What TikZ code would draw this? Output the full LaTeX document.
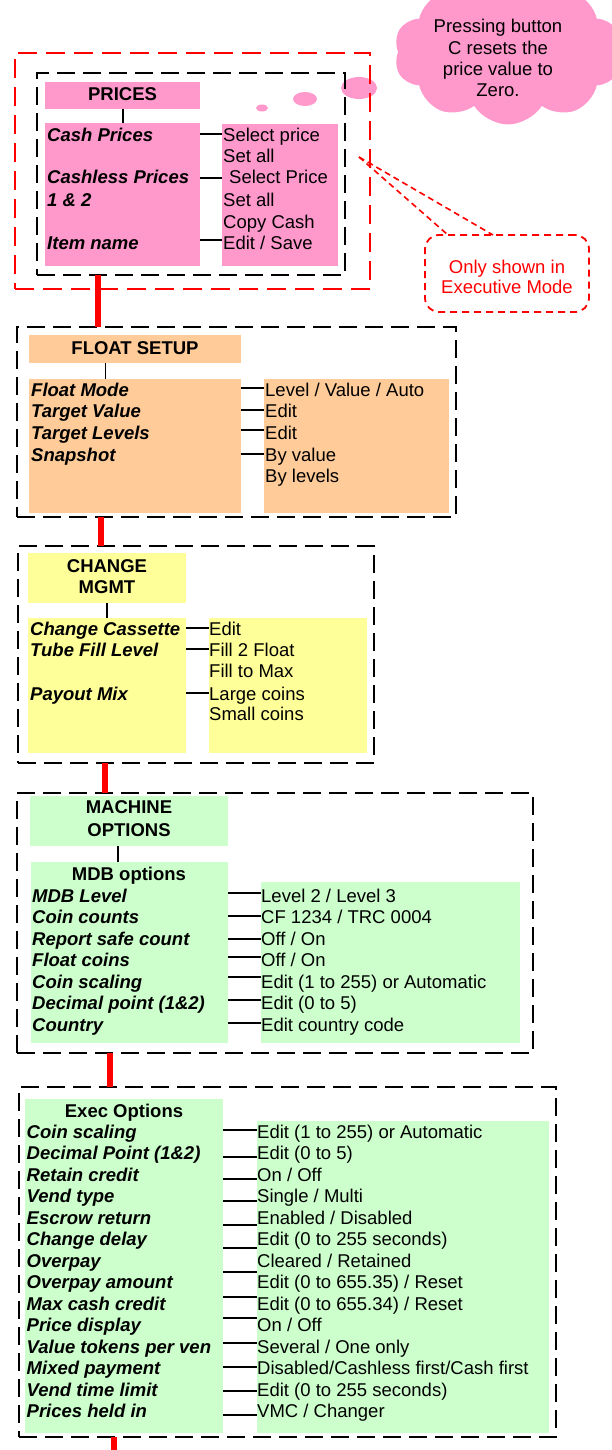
\documentclass[tikz,border=0pt]{standalone}
\usepackage{fontspec}
\setmainfont{Liberation Sans}
\usetikzlibrary{shapes.symbols,shapes.geometric,fit}
\definecolor{cpink}{HTML}{FF99CC}
\definecolor{cpeach}{HTML}{FFCC99}
\definecolor{cyel}{HTML}{FFFF99}
\definecolor{cgreen}{HTML}{CCFFCC}
\definecolor{cred}{HTML}{FF0000}
\tikzset{
  box/.style={inner sep=0pt, outer sep=0pt, draw=none},
  frame/.style={box, draw=black, line width=2.4pt, dash pattern=on 18pt off 8pt},
  redframe/.style={box, draw=cred, line width=2.4pt, dash pattern=on 19pt off 9pt},
  txt/.style={inner sep=0pt, anchor=base west, font=\fontsize{18.5}{21.5}\selectfont},
  itm/.style={inner sep=0pt, anchor=base west, font=\fontsize{18.5}{21.5}\selectfont\bfseries\itshape},
  hdr/.style={inner sep=0pt, anchor=base, font=\fontsize{18.5}{21.5}\selectfont\bfseries},
  ctr/.style={inner sep=0pt, anchor=base, font=\fontsize{18.5}{21.5}\selectfont},
  link/.style={draw=black, line width=1.6pt},
  redlink/.style={draw=cred, line width=6pt},
  notelink/.style={draw=cred, line width=1.6pt, dash pattern=on 6pt off 4pt}
}
\begin{document}
\begin{tikzpicture}[x=1pt,y=-1pt]
\useasboundingbox (0,0) rectangle (611,1450);

% ---------------- cloud note ----------------
\node[cloud, cloud puffs=10, cloud puff arc=115, aspect=1.55, fill=cpink, inner sep=0pt,
      minimum width=228pt, minimum height=145pt] (cloud) at (508,52) {};
\node[ellipse, fill=cpink, inner sep=0pt, minimum width=36pt, minimum height=22pt] (b1) at (359,88) {};
\node[ellipse, fill=cpink, inner sep=0pt, minimum width=24pt, minimum height=14pt] (b2) at (305,99) {};
\node[ellipse, fill=cpink, inner sep=0pt, minimum width=12pt, minimum height=7pt] (b3) at (262,108) {};
\node[ctr] (cl1) at (498,33) {Pressing button};
\node[ctr] (cl2) at (498,55) {C resets the};
\node[ctr] (cl3) at (498,76) {price value to};
\node[ctr] (cl4) at (498,97) {Zero.};

% ---------------- PRICES ----------------
\node[redframe, fit={(15,53) (370,289)}] (exframe) {};
\node[frame, fit={(37,73) (345,275)}] (pframe) {};
\node[box, fill=cpink, fit={(45,82) (200,109)}] (ph) {};
\node[box, fill=cpink, fit={(45,123) (200,266)}] (pl) {};
\node[box, fill=cpink, fit={(222,124) (338,266)}] (pr) {};
\node[hdr] (tprices) at (122.5,101) {PRICES};
\node[itm] (p1) at (47,142) {Cash Prices};
\node[itm] (p2) at (47,184) {Cashless Prices};
\node[itm] (p3) at (47,206) {1 \& 2};
\node[itm] (p4) at (47,249) {Item name};
\node[txt] (q1) at (223,142) {Select price};
\node[txt] (q2) at (223,163) {Set all};
\node[txt] (q3) at (229,184) {Select Price};
\node[txt] (q4) at (223,206) {Set all};
\node[txt] (q5) at (223,228) {Copy Cash};
\node[txt] (q6) at (223,249) {Edit / Save};
\coordinate (vp) at (123,0);
\draw[link] (ph.south -| vp) -- (pl.north -| vp);
\foreach \y [count=\i] in {134,178,240} {
  \coordinate (pa\i) at (0,\y);
  \draw[link] (pl.east |- pa\i) -- (pr.west |- pa\i);
}

% callout
\node[box, draw=cred, line width=1.8pt, dash pattern=on 7pt off 5pt, rounded corners=14pt,
      fit={(425,235) (589,312)}] (note) {};
\node[ctr, text=cred] (n1) at (507,273) {Only shown in};
\node[ctr, text=cred] (n2) at (507,293) {Executive Mode};
\coordinate (tip) at (359,157);
\coordinate (c1) at (448,235);
\coordinate (c2) at (493,235);
\draw[notelink] (tip) -- (c1);
\draw[notelink] (tip) -- (c2);

% ---------------- FLOAT SETUP ----------------
\node[frame, fit={(17,327) (456,517)}] (fframe) {};
\node[box, fill=cpeach, fit={(29,335) (241,363)}] (fh) {};
\node[box, fill=cpeach, fit={(29,379) (241,513)}] (fl) {};
\node[box, fill=cpeach, fit={(264,379) (449,513)}] (fr) {};
\node[hdr] (tfloat) at (135,354) {FLOAT SETUP};
\node[itm] (f1) at (31,396) {Float Mode};
\node[itm] (f2) at (31,417) {Target Value};
\node[itm] (f3) at (31,439) {Target Levels};
\node[itm] (f4) at (31,461) {Snapshot};
\node[txt] (g1) at (265,396) {Level / Value / Auto};
\node[txt] (g2) at (265,417) {Edit};
\node[txt] (g3) at (265,439) {Edit};
\node[txt] (g4) at (265,461) {By value};
\node[txt] (g5) at (265,482) {By levels};
\coordinate (vf) at (105.5,0);
\draw[link] (fh.south -| vf) -- (fl.north -| vf);
\foreach \y [count=\i] in {388,410,430,454} {
  \coordinate (fa\i) at (0,\y);
  \draw[link] (fl.east |- fa\i) -- (fr.west |- fa\i);
}

% ---------------- CHANGE MGMT ----------------
\node[frame, fit={(18,546) (374,763)}] (cframe) {};
\node[box, fill=cyel, fit={(28,553) (186,603)}] (ch) {};
\node[box, fill=cyel, fit={(28,618) (186,753)}] (cl) {};
\node[box, fill=cyel, fit={(209,618) (367,753)}] (cr) {};
\node[hdr] (tch1) at (107,572) {CHANGE};
\node[hdr] (tch2) at (107,593) {MGMT};
\node[itm] (h1) at (30,635) {Change Cassette};
\node[itm] (h2) at (30,656) {Tube Fill Level};
\node[itm] (h3) at (30,700) {Payout Mix};
\node[txt] (k1) at (209,635) {Edit};
\node[txt] (k2) at (209,656) {Fill 2 Float};
\node[txt] (k3) at (209,677) {Fill to Max};
\node[txt] (k4) at (209,700) {Large coins};
\node[txt] (k5) at (209,720) {Small coins};
\coordinate (vc) at (107,0);
\draw[link] (ch.south -| vc) -- (cl.north -| vc);
\foreach \y [count=\i] in {628,649,693} {
  \coordinate (ca\i) at (0,\y);
  \draw[link] (cl.east |- ca\i) -- (cr.west |- ca\i);
}

% ---------------- MACHINE OPTIONS ----------------
\node[frame, fit={(17,793) (533,1053)}] (mframe) {};
\node[box, fill=cgreen, fit={(30,796) (228,846)}] (mh) {};
\node[box, fill=cgreen, fit={(31,862) (228,1043)}] (ml) {};
\node[box, fill=cgreen, fit={(261,882) (520,1043)}] (mr) {};
\node[hdr] (tm1) at (129,813) {MACHINE};
\node[hdr] (tm2) at (129,836) {OPTIONS};
\node[hdr] (tm3) at (129,880) {MDB options};
\node[itm] (ma1) at (32,902)   {MDB Level};
\node[itm] (ma2) at (32,923.5) {Coin counts};
\node[itm] (ma3) at (32,945)   {Report safe count};
\node[itm] (ma4) at (32,966.5) {Float coins};
\node[itm] (ma5) at (32,988)   {Coin scaling};
\node[itm] (ma6) at (32,1009.5){Decimal point (1\&2)};
\node[itm] (ma7) at (32,1031)  {Country};
\node[txt] (mb1) at (261,902)   {Level 2 / Level 3};
\node[txt] (mb2) at (261,923.5) {CF 1234 / TRC 0004};
\node[txt] (mb3) at (261,945)   {Off / On};
\node[txt] (mb4) at (261,966.5) {Off / On};
\node[txt] (mb5) at (261,988)   {Edit (1 to 255) or Automatic};
\node[txt] (mb6) at (261,1009.5){Edit (0 to 5)};
\node[txt] (mb7) at (261,1031)  {Edit country code};
\coordinate (vm) at (118,0);
\draw[link] (mh.south -| vm) -- (ml.north -| vm);
\foreach \y [count=\i] in {893,916,939,957,977,1000,1023} {
  \coordinate (mc\i) at (0,\y);
  \draw[link] (ml.east |- mc\i) -- (mr.west |- mc\i);
}

% ---------------- EXEC OPTIONS ----------------
\node[frame, fit={(19,1087) (556,1437)}] (eframe) {};
\node[box, fill=cgreen, fit={(25,1099) (223,1433)}] (el) {};
\node[box, fill=cgreen, fit={(257,1121) (549,1433)}] (er) {};
\node[hdr] (te) at (124,1117) {Exec Options};
\node[itm] (ea1)  at (26.5,1138)   {Coin scaling};
\node[itm] (ea2)  at (26.5,1159.5) {Decimal Point (1\&2)};
\node[itm] (ea3)  at (26.5,1181)   {Retain credit};
\node[itm] (ea4)  at (26.5,1202.5) {Vend type};
\node[itm] (ea5)  at (26.5,1224)   {Escrow return};
\node[itm] (ea6)  at (26.5,1245.5) {Change delay};
\node[itm] (ea7)  at (26.5,1267)   {Overpay};
\node[itm] (ea8)  at (26.5,1288.5) {Overpay amount};
\node[itm] (ea9)  at (26.5,1310)   {Max cash credit};
\node[itm] (ea10) at (26.5,1331.5) {Price display};
\node[itm] (ea11) at (26.5,1353)   {Value tokens per ven};
\node[itm] (ea12) at (26.5,1374.5) {Mixed payment};
\node[itm] (ea13) at (26.5,1396)   {Vend time limit};
\node[itm] (ea14) at (26.5,1417.5) {Prices held in};
\node[txt] (eb1)  at (257,1138)   {Edit (1 to 255) or Automatic};
\node[txt] (eb2)  at (257,1159.5) {Edit (0 to 5)};
\node[txt] (eb3)  at (257,1181)   {On / Off};
\node[txt] (eb4)  at (257,1202.5) {Single / Multi};
\node[txt] (eb5)  at (257,1224)   {Enabled / Disabled};
\node[txt] (eb6)  at (257,1245.5) {Edit (0 to 255 seconds)};
\node[txt] (eb7)  at (257,1267)   {Cleared / Retained};
\node[txt] (eb8)  at (257,1288.5) {Edit (0 to 655.35) / Reset};
\node[txt] (eb9)  at (257,1310)   {Edit (0 to 655.34) / Reset};
\node[txt] (eb10) at (257,1331.5) {On / Off};
\node[txt] (eb11) at (257,1353)   {Several / One only};
\node[txt] (eb12) at (257,1374.5) {Disabled/Cashless first/Cash first};
\node[txt] (eb13) at (257,1396)   {Edit (0 to 255 seconds)};
\node[txt] (eb14) at (257,1417.5) {VMC / Changer};
\foreach \y [count=\i] in {1130,1157,1179,1201,1225,1248,1272,1297,1318,1343,1367,1391,1415} {
  \coordinate (ec\i) at (0,\y);
  \draw[link] (el.east |- ec\i) -- (er.west |- ec\i);
}

% ---------------- red links between sections ----------------
\coordinate (r1) at (98,0);
\coordinate (r2) at (101,0);
\coordinate (r3) at (105,0);
\coordinate (r4) at (110,0);
\coordinate (r5) at (114,1452);
\draw[redlink] (pframe.south -| r1) -- (fframe.north -| r1);
\draw[redlink] (fframe.south -| r2) -- (cframe.north -| r2);
\draw[redlink] (cframe.south -| r3) -- (mframe.north -| r3);
\draw[redlink] (mframe.south -| r4) -- (eframe.north -| r4);
\draw[redlink] (eframe.south -| r5) -- (r5);
\end{tikzpicture}
\end{document}
